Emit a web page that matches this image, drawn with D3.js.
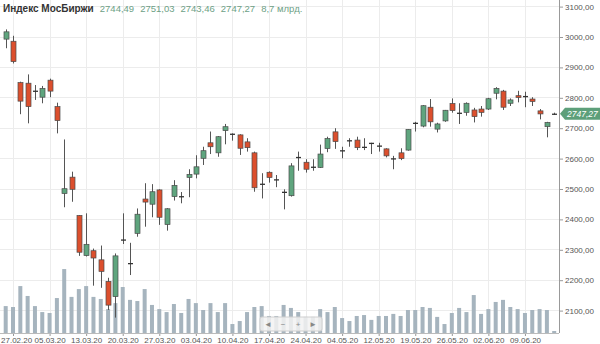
<!DOCTYPE html>
<html><head><meta charset="utf-8">
<script src="https://cdn.jsdelivr.net/npm/d3@7"></script>
<style>body{margin:0;background:#fff}svg{display:block;font-family:"Liberation Sans",Arial,sans-serif}</style>
</head><body><svg id="c" width="600" height="344"></svg>
<script>
const dates = ["26.02.20","27.02.20","28.02.20","02.03.20","03.03.20","04.03.20","05.03.20","06.03.20","10.03.20","11.03.20","12.03.20","13.03.20","16.03.20","17.03.20","18.03.20","19.03.20","20.03.20","23.03.20","24.03.20","25.03.20","26.03.20","27.03.20","30.03.20","31.03.20","01.04.20","02.04.20","03.04.20","06.04.20","07.04.20","08.04.20","09.04.20","10.04.20","13.04.20","14.04.20","15.04.20","16.04.20","17.04.20","20.04.20","21.04.20","22.04.20","23.04.20","24.04.20","27.04.20","28.04.20","29.04.20","30.04.20","04.05.20","05.05.20","06.05.20","07.05.20","08.05.20","12.05.20","13.05.20","14.05.20","15.05.20","18.05.20","19.05.20","20.05.20","21.05.20","22.05.20","25.05.20","26.05.20","27.05.20","28.05.20","29.05.20","01.06.20","02.06.20","03.06.20","04.06.20","05.06.20","08.06.20","09.06.20","10.06.20","11.06.20","15.06.20","16.06.20"];
const open  = [2993,2986,2850,2848,2820,2802,2858,2771,2485,2539,2413,2281,2297,2267,2196,2146,2330,2253,2354,2467,2450,2497,2383,2475,2473,2538,2549,2601,2652,2619,2692,2681,2678,2655,2619,2514,2555,2531,2488,2478,2602,2588,2570,2571,2633,2688,2624,2657,2661,2636,2651,2639,2632,2598,2619,2628,2715,2707,2769,2697,2724,2781,2751,2752,2760,2763,2763,2815,2822,2782,2807,2805,2796,2757,2705,2744.49];
const high  = [3025,3004,2853,2877,2842,2839,2863,2784,2663,2557,2414,2420,2304,2314,2208,2288,2420,2323,2436,2519,2516,2499,2437,2529,2490,2565,2611,2639,2689,2674,2714,2683,2680,2667,2623,2552,2558,2546,2499,2585,2623,2598,2598,2646,2672,2700,2639,2667,2672,2667,2652,2652,2634,2609,2634,2697,2721,2776,2796,2718,2760,2798,2782,2785,2767,2773,2800,2835,2826,2798,2823,2820,2802,2763,2721,2751.03];
const low   = [2963,2913,2746,2716,2793,2782,2802,2683,2440,2458,2280,2278,2182,2175,2102,2077,2319,2217,2343,2376,2407,2382,2363,2462,2453,2473,2535,2579,2615,2606,2647,2659,2612,2623,2491,2469,2521,2506,2433,2475,2560,2554,2560,2569,2621,2632,2601,2639,2628,2628,2615,2623,2604,2565,2595,2626,2689,2703,2705,2686,2721,2751,2714,2741,2719,2738,2760,2795,2760,2773,2785,2769,2773,2729,2670,2743.46];
const close = [3017,2919,2789,2771,2823,2831,2822,2725,2501,2499,2292,2318,2273,2229,2118,2280,2334,2256,2417,2457,2491,2407,2435,2512,2476,2548,2573,2626,2639,2672,2705,2679,2634,2636,2504,2517,2538,2529,2490,2576,2605,2565,2573,2615,2666,2656,2627,2660,2636,2638,2649,2643,2609,2600,2600,2696,2717,2774,2721,2714,2759,2758,2747,2782,2738,2752,2797,2831,2769,2793,2801,2803,2788,2747,2719,2747.27];
const volume = [117,113,204,161,117,91,87,152,278,157,191,204,157,148,104,130,200,144,139,191,122,104,91,126,87,148,130,100,130,91,130,39,52,91,113,117,74,74,122,109,91,70,70,104,91,113,65,52,74,78,57,74,74,83,74,100,100,113,109,70,39,87,109,91,165,83,104,135,144,113,104,87,100,104,100,8.7];
const tickDates = ["27.02.20","05.03.20","13.03.20","20.03.20","27.03.20","03.04.20","10.04.20","17.04.20","24.04.20","04.05.20","12.05.20","19.05.20","26.05.20","02.06.20","09.06.20"];
const priceTicks = [2100,2200,2300,2400,2500,2600,2700,2800,2900,3000,3100];
const title = "Индекс МосБиржи";
const headerValues = ["2744,49","2751,03","2743,46","2747,27","8,7 млрд."];
const lastPrice = 2747.27;

const data = dates.map((d,i)=>({d, o:open[i], h:high[i], l:low[i], c:close[i], v:volume[i]}));
const svg = d3.select("#c");
const axisX = 559, baseY = 333;
const x = d3.scalePoint().domain(dates).range([5.7, 554.2]);
const y = d3.scaleLinear().domain([2100,3100]).range([310.6, 6.6]);
const yv = d3.scaleLinear().domain([0,300]).range([baseY, baseY-69]);
const fmt = v => d3.format(".2f")(v).replace(".", ",");

// grid
const g = svg.append("g");
g.selectAll(".hg").data(priceTicks).join("line")
  .attr("x1",0).attr("x2",axisX).attr("y1",d=>y(d)).attr("y2",d=>y(d))
  .attr("stroke","#ececec").attr("stroke-width",1).attr("shape-rendering","crispEdges");
g.selectAll(".vg").data(tickDates).join("line")
  .attr("x1",d=>Math.round(x(d))+0.5).attr("x2",d=>Math.round(x(d))+0.5).attr("y1",0).attr("y2",baseY)
  .attr("stroke","#ececec").attr("stroke-width",1);

// volume
svg.append("g").selectAll("rect").data(data).join("rect")
  .attr("x",d=>x(d.d)-2).attr("width",4)
  .attr("y",d=>yv(d.v)).attr("height",d=>baseY-yv(d.v))
  .attr("fill","#a6b4be");

// candles
const red="#dc4f2d", green="#5fa57e";
const cg = svg.append("g");
cg.selectAll(".w").data(data).join("line")
  .attr("x1",d=>Math.round(x(d.d))+0.5).attr("x2",d=>Math.round(x(d.d))+0.5)
  .attr("y1",d=>y(d.h)).attr("y2",d=>y(d.l))
  .attr("stroke","#555").attr("stroke-width",1);
const doji = d => Math.abs(d.o-d.c) < 5;
cg.selectAll(".b").data(data.filter(d=>!doji(d))).join("rect")
  .attr("x",d=>Math.round(x(d.d))-2).attr("width",5)
  .attr("y",d=>y(Math.max(d.o,d.c))).attr("height",d=>Math.max(1,y(Math.min(d.o,d.c))-y(Math.max(d.o,d.c))))
  .attr("fill",d=>d.c>=d.o?green:red).attr("stroke","#4a4a4a").attr("stroke-width",0.7);
cg.selectAll(".dj").data(data.filter(doji)).join("line")
  .attr("x1",d=>Math.round(x(d.d))-2).attr("x2",d=>Math.round(x(d.d))+3)
  .attr("y1",d=>y((d.o+d.c)/2)).attr("y2",d=>y((d.o+d.c)/2))
  .attr("stroke","#333").attr("stroke-width",1.3);

// right axis
const ra = svg.append("g").attr("transform",`translate(${axisX},0)`)
  .call(d3.axisRight(y).tickValues(priceTicks).tickSize(4).tickPadding(2).tickFormat(fmt));
ra.select(".domain").remove();
ra.selectAll("line").attr("stroke","#999");
ra.selectAll("text").attr("font-size",8).attr("fill","#555").attr("font-family","Liberation Sans, Arial");
svg.append("line").attr("x1",axisX+0.5).attr("x2",axisX+0.5).attr("y1",0).attr("y2",baseY)
  .attr("stroke","#999");

// bottom axis
const ba = svg.append("g").attr("transform",`translate(0,${baseY})`)
  .call(d3.axisBottom(x).tickValues(tickDates).tickSize(3).tickPadding(1));
ba.select(".domain").remove();
ba.selectAll("line").attr("stroke","#999");
ba.selectAll("text").attr("font-size",8).attr("fill","#555").attr("font-family","Liberation Sans, Arial");
// keep the first label inside the picture
ba.selectAll(".tick").filter((d,i)=>i===0).select("text")
  .attr("text-anchor","start").attr("x",-Math.round(x(tickDates[0]))+0.5);
svg.append("line").attr("x1",0).attr("x2",axisX).attr("y1",baseY+0.5).attr("y2",baseY+0.5).attr("stroke","#bbb");

// last price label
const ly = y(lastPrice);
svg.append("path").attr("d",`M560,${ly} L565,${ly-6} L600,${ly-6} L600,${ly+6} L565,${ly+6} Z`).attr("fill","#5d9f7a");
svg.append("text").attr("x",567).attr("y",ly+3).attr("font-size",8.5).attr("fill","#fff").attr("font-style","italic").text(fmt(lastPrice));

// nav box
const nav = svg.append("g");
nav.append("rect").attr("x",260).attr("y",317).attr("width",62).attr("height",14).attr("rx",2)
  .attr("fill","#f2f2f2").attr("fill-opacity",0.85).attr("stroke","#d0d0d0");
["◄","−","+","►"].forEach((s,i)=>nav.append("text").attr("x",268+i*15).attr("y",327).attr("text-anchor","middle")
  .attr("font-size",8).attr("fill","#888").text(s));

// header
const ht = svg.append("text").attr("x",3).attr("y",12).attr("font-size",10).attr("font-weight","bold").attr("fill","#333").text(title);
let hx = 3 + ht.node().getComputedTextLength() + 6;
headerValues.forEach(v=>{
  const t = svg.append("text").attr("x",hx).attr("y",12).attr("font-size",9.5).attr("fill","#6d9f86").text(v);
  hx += t.node().getComputedTextLength() + 6;
});
</script></body></html>
